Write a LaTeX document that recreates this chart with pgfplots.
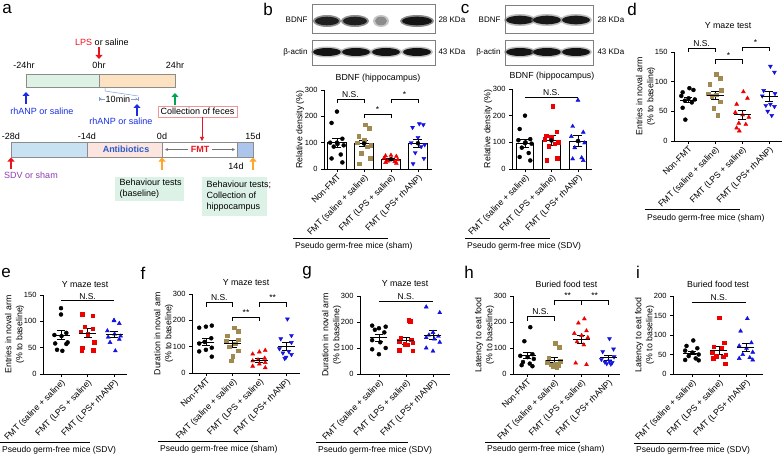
\documentclass[border=0pt]{standalone}
\usepackage{pgfplots}
\pgfplotsset{compat=1.18}
\usepackage{pgfplotstable}
\usepackage{fontspec}
\setmainfont{Liberation Sans}
\usetikzlibrary{arrows.meta}

\definecolor{cOl}{RGB}{160,138,82}
\definecolor{cRd}{RGB}{238,0,0}
\definecolor{cBl}{RGB}{20,20,225}
\definecolor{barG}{RGB}{221,241,228}
\definecolor{barO}{RGB}{252,226,192}
\definecolor{barB}{RGB}{200,225,243}
\definecolor{barP}{RGB}{251,229,222}
\definecolor{barL}{RGB}{172,197,236}
\definecolor{boxG}{RGB}{221,242,231}
\definecolor{txB}{RGB}{40,90,205}
\definecolor{txP}{RGB}{140,60,175}
\definecolor{arO}{RGB}{255,165,40}
\definecolor{arG}{RGB}{0,165,80}
\definecolor{arB}{RGB}{25,45,225}
\definecolor{arR}{RGB}{235,20,30}
\definecolor{lnB}{RGB}{130,160,205}
\definecolor{bxR}{RGB}{240,150,150}

\newcommand{\fs}[2]{\fontsize{#1}{#2}\selectfont}

\pgfplotsset{
  pan/.style={
    scale only axis,
    axis x line*=bottom, axis y line*=left,
    axis line style={line width=0.8pt},
    tick align=outside, major tick length=3pt,
    tick style={black, line width=0.8pt},
    ymin=0, clip=false,
    ticklabel style={font=\fs{7.5}{9}},
    xticklabel style={rotate=45, anchor=north east, inner sep=1pt, font=\fs{8.7}{10}},
    ylabel style={font=\fs{8.8}{11}, align=center},
    title style={font=\fs{8.8}{10}},
    /pgf/number format/assume math mode=true,
    scaled y ticks=false,
  },
  pt/.style={only marks, mark size=2pt},
  blk/.style={pt, mark=*, black},
  olv/.style={pt, mark=square*, cOl, mark size=1.8pt},
  rtri/.style={pt, mark=triangle*, cRd, mark size=2.3pt},
  rsq/.style={pt, mark=square*, cRd, mark size=1.8pt},
  btri/.style={pt, mark=triangle*, cBl, mark size=2.3pt},
  bdtri/.style={pt, mark=triangle*, cBl, mark size=2.3pt, mark options={rotate=180}},
  mse/.style={only marks, mark=-, mark size=8.5pt, black, line width=0.8pt,
    error bars/y dir=both, error bars/y explicit,
    error bars/error bar style={line width=0.8pt},
    error bars/error mark options={rotate=90, mark size=4pt, line width=0.8pt}},
  ebar/.style={only marks, mark=none, black,
    error bars/y dir=both, error bars/y explicit,
    error bars/error bar style={line width=0.8pt},
    error bars/error mark options={rotate=90, mark size=4.5pt, line width=0.8pt}},
  wbar/.style={ybar, fill=white, draw=black, line width=0.8pt},
}

\newcommand{\brk}[5]{%
  \draw[line width=0.6pt] (axis cs:#1,#3) ++(0pt,-4pt) -- (axis cs:#1,#3) -- (axis cs:#2,#3) -- ++(0pt,-4pt);
  \node[above, inner sep=1.5pt, font=\fs{8.5}{9}] at (axis cs:#4,#3) {#5};}
\newcommand{\lin}[4]{%
  \draw[line width=0.6pt] (axis cs:#1,#3) -- (axis cs:#2,#3);
  \node[above, inner sep=1.5pt, font=\fs{8.5}{9}] at (axis cs:#4,#3) {N.S.};}

% ---------------- data ----------------
\pgfplotstableread{
oA oB v0 v1 v2 v3
0.00 0.05 218 168 52 172
-0.20 0.20 175 155 50 168
0.20 -0.20 115 125 48 158
-0.25 0.00 100 110 42 120
0.02 -0.25 95 100 38 100
0.25 0.25 90 90 35 92
-0.12 0.12 85 85 30 85
0.14 -0.10 55 60 28 62
-0.20 0.22 40 40 25 40
0.20 -0.18 25 20 22 20
}\tabB
\pgfplotstableread{
oA oB v0 v1 v2
0.00 0.05 200 236 258
-0.20 0.20 150 140 160
0.20 -0.20 112 125 138
-0.25 0.00 108 120 122
0.02 -0.25 100 112 105
0.25 0.25 95 100 98
-0.12 0.12 80 95 80
0.14 -0.10 60 85 42
-0.20 0.22 45 40 38
0.20 -0.18 32 32 32
}\tabC
\pgfplotstableread{
oA oB v0 v1 v2 v3
0.05 0.05 89 113 83 126
0.20 0.20 86 106 72 116
-0.20 -0.20 82 96 62 85
-0.25 0.22 76 86 48 80
0.02 -0.25 72 80 44 76
0.25 0.05 70 78 40 62
-0.12 -0.12 68 76 30 60
0.14 0.20 65 66 28 58
-0.20 -0.05 56 55 22 50
-0.10 0.10 36 43 17 43
}\tabD
\pgfplotstableread{
oA oB v0 v1 v2
0.00 -0.20 125 113 102
0.00 0.20 113 111 101
0.20 -0.10 78 90 96
-0.25 0.20 74 86 82
0.02 -0.25 72 80 76
0.25 0.00 60 76 72
-0.22 0.25 58 60 70
0.20 -0.20 57 50 66
-0.15 0.22 46 45 60
0.05 -0.22 44 44 44
}\tabE
\pgfplotstableread{
oA oB v0 v1 v2 v3
0.22 0.05 180 172 86 205
0.00 0.20 176 158 80 142
-0.25 -0.20 172 142 72 130
0.20 0.20 132 126 56 116
-0.05 -0.25 118 120 50 92
-0.25 0.10 112 112 46 82
0.22 -0.12 96 100 40 76
0.00 0.20 88 84 34 70
-0.25 0.00 82 64 26 60
0.22 -0.05 62 46 20 55
}\tabF
\pgfplotstableread{
oA oB v0 v1 v2
-0.25 0.10 186 206 258
0.25 0.15 182 202 236
0.00 -0.20 176 140 160
-0.15 0.20 170 132 150
0.20 -0.25 160 126 145
-0.25 0.25 130 120 140
0.05 -0.05 122 115 135
0.25 0.05 100 112 122
-0.25 -0.25 95 92 100
0.00 0.25 76 90 88
}\tabG
\pgfplotstableread{
oA oB v0 v1 v2 v3
0.12 0.05 180 118 212 136
-0.10 0.20 126 102 196 96
0.20 -0.20 76 60 166 86
-0.25 0.22 70 50 156 66
0.02 -0.25 65 45 148 56
0.25 0.05 58 40 140 50
-0.15 -0.12 46 36 124 46
0.10 0.15 40 32 112 44
-0.20 -0.05 34 28 42 40
0.20 0.10 30 26 36 38
}\tabH
\pgfplotstableread{
oA oB v0 v1 v2
0.05 0.00 86 144 142
-0.20 0.20 72 80 110
0.20 -0.20 66 70 80
-0.25 0.10 60 66 72
0.02 -0.25 55 56 66
0.25 0.25 50 50 56
-0.12 -0.10 46 46 50
0.14 0.15 40 44 42
-0.25 -0.22 36 40 40
0.25 0.22 35 26 36
}\tabI

\begin{document}
\begin{tikzpicture}
\useasboundingbox (0,0) rectangle (784pt,456pt);

% ================= schematic & annotations (pixel coordinates) =================
\begin{scope}[yshift=456pt, x=1pt, y=-1pt]
 % panel letters
 \foreach \l/\xx/\yy in {a/7/9, b/268/9, c/465/9, d/632/9, e/6/273, f/143/273, g/307/273, h/469/272, i/638/272}
   \node[font=\fs{17}{18}] at (\xx,\yy) {\l};

 % ---- panel a, top timeline ----
 \node[font=\fs{9}{10}] at (102,42) {\textcolor{arR}{LPS} or saline};
 \draw[arR, line width=2.6pt, -{Triangle[length=4pt,width=7pt]}] (99,47) -- (99,59);
 \node[font=\fs{9}{10}] at (24,65) {-24hr};
 \node[font=\fs{9}{10}] at (99,65) {0hr};
 \node[font=\fs{9}{10}] at (175,65) {24hr};
 \filldraw[fill=barG, draw=black!45, line width=0.5pt] (26,74) rectangle (99,87);
 \filldraw[fill=barO, draw=black!45, line width=0.5pt] (99,74) rectangle (175,87);
 \draw[arB, line width=2.6pt, -{Triangle[length=4pt,width=7pt]}] (26,104) -- (26,92);
 \node[font=\fs{9}{10}, text=arB] at (42,111) {rhANP or saline};
 \draw[lnB, line width=0.5pt] (105,87) -- (105,91) -- (138,96);
 \draw[lnB, line width=0.5pt, {Bar[width=4pt]Stealth[length=2pt,width=2.5pt]}-{Stealth[length=2pt,width=2.5pt]Bar[width=4pt]}] (99,99) -- (138,99);
 \node[font=\fs{9}{10}, fill=white, inner sep=0.5pt] at (118,99) {10min};
 \draw[arB, line width=2.6pt, -{Triangle[length=4pt,width=7pt]}] (137,116) -- (137,104);
 \node[font=\fs{9}{10}, text=arB] at (121,121) {rhANP or saline};
 \draw[arG, line width=2.6pt, -{Triangle[length=4pt,width=7pt]}] (175,105) -- (175,93);
 \node[font=\fs{9}{10}, draw=bxR, line width=0.6pt, fill=white, minimum width=79pt, minimum height=11pt, inner sep=1pt] at (197.5,111.5) {Collection of feces};
 \draw[arR, line width=0.9pt, -{Triangle[length=4pt,width=4pt]}] (202,117) -- (202,141);

 % ---- panel a, bottom timeline ----
 \node[font=\fs{9}{10}] at (11,136) {-28d};
 \node[font=\fs{9}{10}] at (87,136) {-14d};
 \node[font=\fs{9}{10}] at (162,136) {0d};
 \node[font=\fs{9}{10}] at (253,136) {15d};
 \filldraw[fill=barB, draw=black!45, line width=0.5pt] (11,142) rectangle (87,157);
 \filldraw[fill=barP, draw=black!45, line width=0.5pt] (87,142) rectangle (162,157);
 \filldraw[fill=white, draw=black!45, line width=0.5pt] (162,142) rectangle (237,157);
 \filldraw[fill=barL, draw=black!45, line width=0.5pt] (237,142) rectangle (253,157);
 \node[font=\bfseries\fs{9}{10}, text=txB] at (126,149.5) {Antibiotics};
 \node[font=\bfseries\fs{9}{10}, text=arR] at (200,149.5) {FMT};
 \draw[black!55, line width=0.5pt, -{Stealth[length=3pt,width=3pt]}] (188,149.5) -- (165,149.5);
 \draw[black!55, line width=0.5pt, -{Stealth[length=3pt,width=3pt]}] (212,149.5) -- (235,149.5);
 \node[font=\fs{9}{10}] at (236,166) {14d};
 \draw[arR, line width=2.6pt, -{Triangle[length=4pt,width=7pt]}] (11,169) -- (11,157.5);
 \node[font=\fs{9}{10}, text=txP] at (31,175) {SDV or sham};
 \draw[arO, line width=2.6pt, -{Triangle[length=4pt,width=7pt]}] (162,170) -- (162,157.5);
 \draw[arO, line width=2.6pt, -{Triangle[length=4pt,width=7pt]}] (253,170) -- (253,157.5);
 \fill[boxG] (115,177) rectangle (184,201);
 \node[font=\fs{9}{11}, align=left, anchor=west] at (116,189) {Behaviour tests\\(baseline)};
 \fill[boxG] (202,177) rectangle (267,216);
 \node[font=\fs{9}{11}, align=left, anchor=west] at (203,196.5) {Behaviour tests;\\Collection of\\hippocampus};

 % ---- western blots ----
 \draw[black!50, line width=0.5pt] (312,4) rectangle (435,33);
 \draw[black!50, line width=0.5pt] (312,40) rectangle (435,65);
 \foreach \cx/\rx/\sh in {327/12/88, 355/12/88, 381/6/45, 417/15/92}{
   \fill[black!\sh!white, opacity=0.5] (\cx,21) ellipse [x radius=\rx pt+2pt, y radius=6pt];
   \fill[black!\sh] (\cx,21) ellipse [x radius=\rx pt, y radius=4.3pt];}
 \foreach \cx in {327,356,386,417}{
   \fill[black!50, opacity=0.5] (\cx,52) ellipse [x radius=16pt, y radius=5.5pt];
   \fill[black!92] (\cx,52) ellipse [x radius=14pt, y radius=4pt];}
 \node[font=\fs{8}{9}, anchor=east] at (311,20) {BDNF};
 \node[font=\fs{8}{9}, anchor=east] at (311,52) {β-actin};
 \node[font=\fs{8}{9}, anchor=west] at (435,20) {28 KDa};
 \node[font=\fs{8}{9}, anchor=west] at (435,52) {43 KDa};

 \draw[black!50, line width=0.5pt] (505,5) rectangle (593,33);
 \draw[black!50, line width=0.5pt] (505,40) rectangle (593,65);
 \foreach \cx in {520,547,576}{
   \fill[black!50, opacity=0.5] (\cx,20) ellipse [x radius=16pt, y radius=6pt];
   \fill[black!90] (\cx,20) ellipse [x radius=14pt, y radius=4.3pt];
   \fill[black!50, opacity=0.5] (\cx,52) ellipse [x radius=16pt, y radius=5.5pt];
   \fill[black!92] (\cx,52) ellipse [x radius=14pt, y radius=4pt];}
 \node[font=\fs{8}{9}, anchor=east] at (504,20) {BDNF};
 \node[font=\fs{8}{9}, anchor=east] at (504,52) {β-actin};
 \node[font=\fs{8}{9}, anchor=west] at (594,20) {28 KDa};
 \node[font=\fs{8}{9}, anchor=west] at (594,52) {43 KDa};

 % ---- group lines ----
 \foreach \xa/\xb/\ly/\ty/\tt in {293/388/238/246/sham, 465/550/238/246/SDV, 645/740/209/218/sham,
   0/90/442/450/SDV, 158/258/441/449/sham, 316/408/442/450/SDV, 485/580/442/449/sham, 634/720/443/450/SDV}{
   \draw[line width=0.6pt] (\xa,\ly) -- (\xb,\ly);
   \node[font=\fs{8.5}{9}, anchor=west, inner sep=0pt] at (\xa+2,\ty) {Pseudo germ-free mice (\tt)};}
\end{scope}

% ================= panel b =================
\begin{axis}[pan, at={(324pt,287pt)}, anchor=south west, width=108pt, height=79pt,
  xmin=-0.48, xmax=3.52, ymax=300, ytick={0,100,200,300},
  xtick={0,1,2,3}, xticklabels={Non-FMT, FMT (saline + saline), FMT (LPS + saline), FMT (LPS+ rhANP)},
  ylabel={Relative density (\%)}, ylabel shift=-6pt, title={BDNF (hippocampus)}, title style={yshift=-2pt}]
 \addplot[wbar, bar width=0.7] coordinates {(0,100) (1,97) (2,37) (3,98)};
 \addplot[blk] table[x=oA, y=v0] {\tabB};
 \addplot[olv] table[x expr=\thisrow{oB}+1, y=v1] {\tabB};
 \addplot[rtri] table[x expr=\thisrow{oA}+2, y=v2] {\tabB};
 \addplot[bdtri] table[x expr=\thisrow{oB}+3, y=v3] {\tabB};
 \addplot[ebar] coordinates {(0,100) +- (0,18) (1,97) +- (0,13) (2,37) +- (0,4) (3,98) +- (0,15)};
 \brk{0}{1}{265}{0.5}{N.S.}
 \brk{1}{2}{209}{1.5}{*}
 \brk{2}{3}{265}{2.5}{*}
\end{axis}

% ================= panel c =================
\begin{axis}[pan, at={(512pt,287pt)}, anchor=south west, width=80pt, height=80pt,
  xmin=-0.49, xmax=2.53, ymax=300, ytick={0,100,200,300},
  xtick={0,1,2}, xticklabels={FMT (saline + saline), FMT (LPS + saline), FMT (LPS+ rhANP)},
  ylabel={Relative density (\%)}, ylabel shift=-6pt, title={BDNF (hippocampus)}, title style={yshift=-1pt}]
 \addplot[wbar, bar width=0.65] coordinates {(0,97) (1,107) (2,105)};
 \addplot[blk] table[x=oA, y=v0] {\tabC};
 \addplot[rsq] table[x expr=\thisrow{oB}+1, y=v1] {\tabC};
 \addplot[btri] table[x expr=\thisrow{oA}+2, y=v2] {\tabC};
 \addplot[ebar] coordinates {(0,97) +- (0,15) (1,107) +- (0,18) (2,105) +- (0,21)};
 \lin{0}{2}{270}{1}
\end{axis}

% ================= panel d =================
\begin{axis}[pan, at={(674pt,315pt)}, anchor=south west, width=108pt, height=89pt,
  xmin=-0.52, xmax=3.48, ymax=150, ytick={0,50,100,150},
  xtick={0,1,2,3}, xticklabels={Non-FMT, FMT (saline + saline), FMT (LPS + saline), FMT (LPS+ rhANP)},
  ylabel={Entries in noval arm\\(\% to baseline)}, ylabel shift=-7pt, title={Y maze test}, title style={yshift=14pt}]
 \addplot[blk] table[x=oA, y=v0] {\tabD};
 \addplot[olv] table[x expr=\thisrow{oB}+1, y=v1] {\tabD};
 \addplot[rtri] table[x expr=\thisrow{oA}+2, y=v2] {\tabD};
 \addplot[bdtri] table[x expr=\thisrow{oB}+3, y=v3] {\tabD};
 \addplot[mse] coordinates {(0,69) +- (0,4.5) (1,77) +- (0,7) (2,44) +- (0,7) (3,75) +- (0,8.5)};
 \brk{0}{1}{157}{0.5}{N.S.}
 \brk{1}{2}{137}{1.5}{*}
 \brk{2}{3}{158}{2.5}{*}
\end{axis}

% ================= panel e =================
\begin{axis}[pan, at={(43pt,82pt)}, anchor=south west, width=84pt, height=79pt,
  xmin=-0.68, xmax=2.49, ymax=150, ytick={0,50,100,150},
  xtick={0,1,2}, xticklabels={FMT (saline + saline), FMT (LPS + saline), FMT (LPS+ rhANP)},
  ylabel={Entries in noval arm\\(\% to baseline)}, ylabel shift=-7pt, title={Y maze test}, title style={yshift=-2pt}]
 \addplot[blk] table[x=oA, y=v0] {\tabE};
 \addplot[rsq] table[x expr=\thisrow{oB}+1, y=v1] {\tabE};
 \addplot[btri] table[x expr=\thisrow{oA}+2, y=v2] {\tabE};
 \addplot[mse] coordinates {(0,74) +- (0,8) (1,78) +- (0,8) (2,75) +- (0,6)};
 \lin{0}{2}{139}{1}
\end{axis}

% ================= panel f =================
\begin{axis}[pan, at={(192pt,83pt)}, anchor=south west, width=108pt, height=79pt,
  xmin=-0.52, xmax=3.52, ymax=300, ytick={0,100,200,300},
  xtick={0,1,2,3}, xticklabels={Non-FMT, FMT (saline + saline), FMT (LPS + saline), FMT (LPS+ rhANP)},
  ylabel={Duration in noval arm\\(\% to baseline)}, ylabel shift=-7pt, title={Y maze test}, title style={yshift=-1pt}]
 \addplot[blk] table[x=oA, y=v0] {\tabF};
 \addplot[olv] table[x expr=\thisrow{oB}+1, y=v1] {\tabF};
 \addplot[rtri] table[x expr=\thisrow{oA}+2, y=v2] {\tabF};
 \addplot[bdtri] table[x expr=\thisrow{oB}+3, y=v3] {\tabF};
 \addplot[mse] coordinates {(0,117) +- (0,13) (1,112) +- (0,13) (2,47) +- (0,7) (3,100) +- (0,15)};
 \brk{0}{1}{267}{0.5}{N.S.}
 \brk{1}{2}{211}{1.5}{**}
 \brk{2}{3}{267}{2.5}{**}
\end{axis}

% ================= panel g =================
\begin{axis}[pan, at={(360pt,82pt)}, anchor=south west, width=90pt, height=78pt,
  xmin=-0.70, xmax=2.63, ymax=300, ytick={0,100,200,300},
  xtick={0,1,2}, xticklabels={FMT (saline + saline), FMT (LPS + saline), FMT (LPS+ rhANP)},
  ylabel={Duration in noval arm\\(\% to baseline)}, ylabel shift=-7pt, title={Y maze test}, title style={yshift=0pt}]
 \addplot[blk] table[x=oA, y=v0] {\tabG};
 \addplot[rsq] table[x expr=\thisrow{oB}+1, y=v1] {\tabG};
 \addplot[btri] table[x expr=\thisrow{oA}+2, y=v2] {\tabG};
 \addplot[mse] coordinates {(0,139) +- (0,12) (1,128) +- (0,14) (2,150) +- (0,16)};
 \lin{0}{2}{279}{1}
\end{axis}

% ================= panel h =================
\begin{axis}[pan, at={(513pt,82pt)}, anchor=south west, width=107pt, height=78pt,
  xmin=-0.52, xmax=3.44, ymax=300, ytick={0,100,200,300},
  xtick={0,1,2,3}, xticklabels={Non-FMT, FMT (saline + saline), FMT (LPS + saline), FMT (LPS+ rhANP)},
  ylabel={Latency to eat food\\(\% to baseline)}, ylabel shift=-7pt, title={Buried food test}, title style={yshift=-1pt}]
 \addplot[blk] table[x=oA, y=v0] {\tabH};
 \addplot[olv] table[x expr=\thisrow{oB}+1, y=v1] {\tabH};
 \addplot[rtri] table[x expr=\thisrow{oA}+2, y=v2] {\tabH};
 \addplot[bdtri] table[x expr=\thisrow{oB}+3, y=v3] {\tabH};
 \addplot[mse] coordinates {(0,72) +- (0,12) (1,53) +- (0,10) (2,133) +- (0,17) (3,63) +- (0,10)};
 \brk{0}{1}{221}{0.5}{N.S.}
 \brk{1}{2}{282}{1.5}{**}
 \brk{2}{3}{282}{2.5}{**}
\end{axis}

% ================= panel i =================
\begin{axis}[pan, at={(673pt,82pt)}, anchor=south west, width=90pt, height=78pt,
  xmin=-0.70, xmax=2.63, ymax=200, ytick={0,50,100,150,200},
  xtick={0,1,2}, xticklabels={FMT (saline + saline), FMT (LPS + saline), FMT (LPS+ rhANP)},
  ylabel={Latency to eat food\\(\% to baseline)}, ylabel shift=-7pt, title={Buried food test}, title style={yshift=-1pt}]
 \addplot[blk] table[x=oA, y=v0] {\tabI};
 \addplot[rsq] table[x expr=\thisrow{oB}+1, y=v1] {\tabI};
 \addplot[btri] table[x expr=\thisrow{oA}+2, y=v2] {\tabI};
 \addplot[mse] coordinates {(0,54) +- (0,5) (1,60) +- (0,10) (2,69) +- (0,10)};
 \lin{0}{2}{185}{1}
\end{axis}
\end{tikzpicture}
\end{document}
